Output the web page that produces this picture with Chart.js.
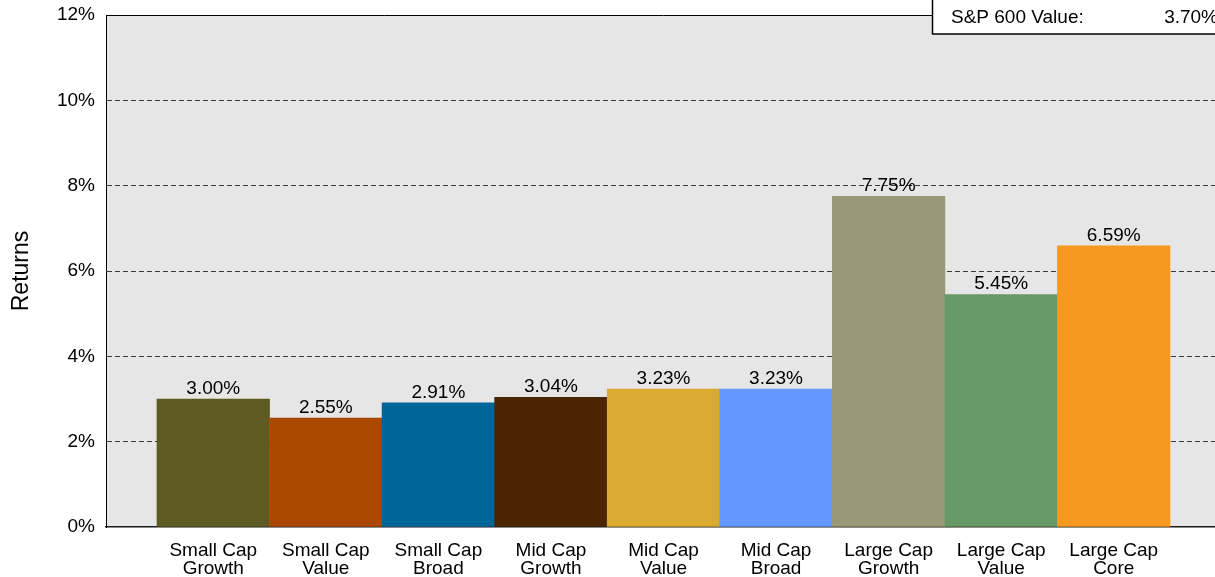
<!DOCTYPE html>
<html>
<head>
<meta charset="utf-8">
<script src="https://cdn.jsdelivr.net/npm/chart.js@4/dist/chart.umd.min.js"></script>
<style>
    html, body { margin: 0; padding: 0; overflow: hidden; background: #ffffff; }
</style>
</head>
<body>
<canvas id="returnsChart" width="1230" height="577"></canvas>
<script>
// ==================== DATA ====================

var categories = [
    ["Small Cap", "Growth"], ["Small Cap", "Value"], ["Small Cap", "Broad"],
    ["Mid Cap", "Growth"], ["Mid Cap", "Value"], ["Mid Cap", "Broad"],
    ["Large Cap", "Growth"], ["Large Cap", "Value"], ["Large Cap", "Core"]
];
var returns = [3.00, 2.55, 2.91, 3.04, 3.23, 3.23, 7.75, 5.45, 6.59];
var barColors = ["#5d5b21", "#aa4800", "#00669a", "#4a2500", "#daaa31", "#6497ff", "#999977", "#669966", "#f8991f"];
var yTicks = [0, 2, 4, 6, 8, 10, 12];
var benchmarkName = "S&P 600 Value:";
var benchmarkValue = 3.70;

var FONT = "'Liberation Sans', Arial, sans-serif";

// ==================== PLUGINS ====================

var plotBackground = {
    id: "plotBackground",
    beforeDraw: function(chart) {
        var a = chart.chartArea;
        var ctx = chart.ctx;
        ctx.save();
        ctx.fillStyle = "#e6e6e6";
        ctx.fillRect(a.left, a.top, a.right - a.left, a.bottom - a.top);
        ctx.restore();
    },
    afterDatasetsDraw: function(chart) {
        var a = chart.chartArea;
        var ctx = chart.ctx;
        // top frame line
        ctx.save();
        ctx.strokeStyle = "#000000";
        ctx.lineWidth = 1;
        ctx.beginPath();
        ctx.moveTo(a.left, a.top + 0.5);
        ctx.lineTo(a.right, a.top + 0.5);
        ctx.stroke();
        ctx.restore();
    }
};

var valueLabels = {
    id: "valueLabels",
    afterDatasetsDraw: function(chart) {
        var ctx = chart.ctx;
        var meta = chart.getDatasetMeta(0);
        ctx.save();
        ctx.font = "19px " + FONT;
        ctx.fillStyle = "#000000";
        ctx.textAlign = "center";
        ctx.textBaseline = "alphabetic";
        for (var i = 0; i < meta.data.length; i++) {
            var bar = meta.data[i];
            ctx.fillText(returns[i].toFixed(2) + "%", bar.x, bar.y - 5);
        }
        ctx.restore();
    }
};

var benchmarkBox = {
    id: "benchmarkBox",
    afterDraw: function(chart) {
        var a = chart.chartArea;
        var ctx = chart.ctx;
        var left = a.left + 826;
        var bottom = a.top + 19;
        ctx.save();
        ctx.fillStyle = "#ffffff";
        ctx.fillRect(left, -2, chart.width - left + 2, bottom + 2);
        ctx.strokeStyle = "#000000";
        ctx.lineWidth = 1.5;
        ctx.strokeRect(left + 0.5, -2, chart.width - left + 4, bottom + 2);
        ctx.font = "19px " + FONT;
        ctx.fillStyle = "#000000";
        ctx.textBaseline = "alphabetic";
        ctx.textAlign = "left";
        ctx.fillText(benchmarkName, left + 19, bottom - 11);
        ctx.textAlign = "right";
        ctx.fillText(benchmarkValue.toFixed(2) + "%", chart.width - 12, bottom - 11);
        ctx.restore();
    }
};

// ==================== CHART ====================

var points = [];
for (var i = 0; i < returns.length; i++) {
    points.push({ x: i, y: returns[i] });
}

var ctx = document.getElementById("returnsChart").getContext("2d");
var returnsChart = new Chart(ctx, {
    type: "bar",
    data: {
        datasets: [{
            data: points,
            backgroundColor: barColors,
            borderWidth: 0,
            barPercentage: 1.0,
            categoryPercentage: 1.0
        }]
    },
    options: {
        responsive: false,
        animation: false,
        events: [],
        layout: { padding: { top: 15, right: 9, left: 0, bottom: 0 } },
        plugins: {
            legend: { display: false },
            tooltip: { enabled: false }
        },
        scales: {
            x: {
                type: "linear",
                offset: false,
                min: -0.953,
                max: 8.953,
                afterBuildTicks: function(axis) {
                    axis.ticks = categories.map(function(c, idx) { return { value: idx }; });
                },
                afterFit: function(scale) {
                    scale.height = 50;
                    scale.paddingLeft = 0;
                    scale.paddingRight = 0;
                },
                grid: { display: false, drawTicks: false, offset: false },
                border: { display: true, color: "#1a1a1a", width: 1.5 },
                ticks: {
                    autoSkip: false,
                    maxRotation: 0,
                    padding: 15,
                    color: "#000000",
                    font: { family: FONT, size: 19, lineHeight: "18px" },
                    callback: function(value) { return categories[value]; }
                }
            },
            y: {
                min: 0,
                max: 12,
                afterBuildTicks: function(axis) {
                    axis.ticks = yTicks.map(function(v) { return { value: v }; });
                },
                afterFit: function(scale) {
                    scale.width = 106;
                    scale.paddingTop = 0;
                    scale.paddingBottom = 0;
                },
                grid: {
                    drawTicks: false,
                    color: function(c) {
                        var v = c.tick ? c.tick.value : 0;
                        return (v > 0 && v < 12) ? "#3a3a3a" : "rgba(0,0,0,0)";
                    },
                    lineWidth: 1
                },
                border: { display: true, color: "#000000", width: 1, dash: [5, 3] },
                ticks: {
                    padding: 11,
                    color: "#000000",
                    font: { family: FONT, size: 19 },
                    callback: function(value) { return value + "%"; }
                },
                title: {
                    display: true,
                    text: "Returns",
                    color: "#000000",
                    font: { family: FONT, size: 23 },
                    padding: { top: 8, bottom: 0 }
                }
            }
        }
    },
    plugins: [plotBackground, valueLabels, benchmarkBox]
});
</script>
</body>
</html>
